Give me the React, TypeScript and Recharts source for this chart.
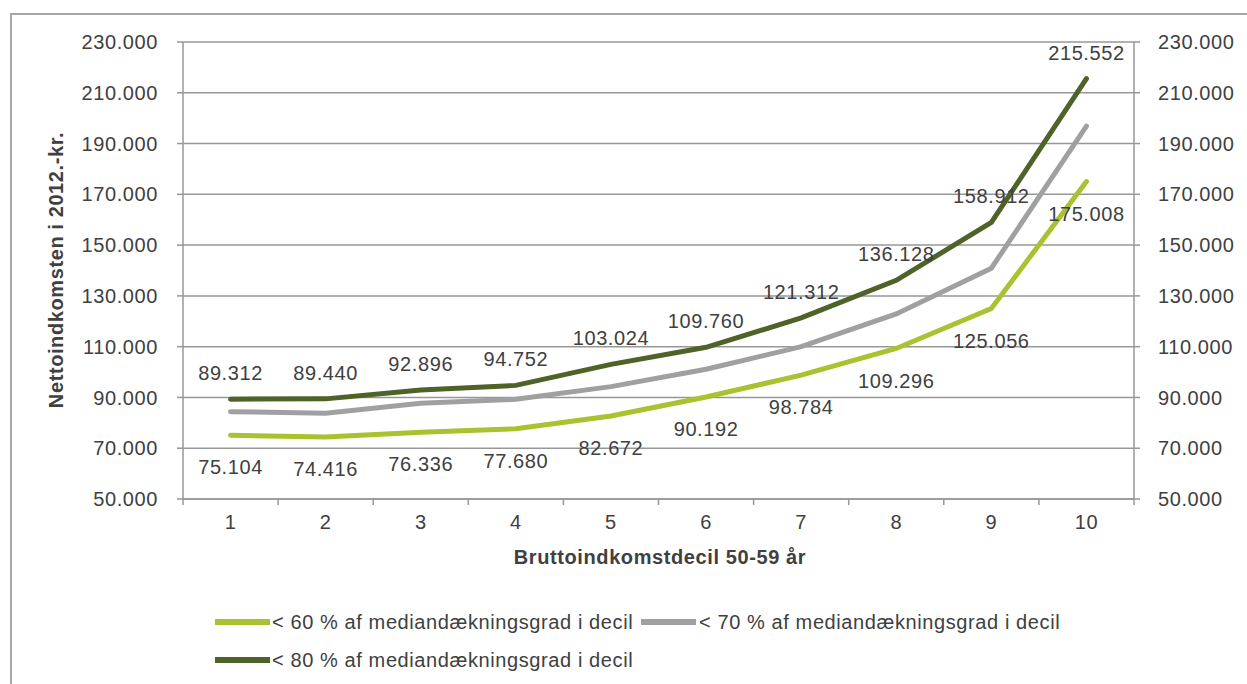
import { LineChart, Line, XAxis, YAxis, CartesianGrid, LabelList } from 'recharts'

// Deciles on the x axis; tick marks sit on the boundaries between them
const deciles = [1, 2, 3, 4, 5, 6, 7, 8, 9, 10]
const boundaries = [0.5, 1.5, 2.5, 3.5, 4.5, 5.5, 6.5, 7.5, 8.5, 9.5, 10.5]
const yTicks = [50000, 70000, 90000, 110000, 130000, 150000, 170000, 190000, 210000, 230000]

const under60 = [75104, 74416, 76336, 77680, 82672, 90192, 98784, 109296, 125056, 175008]
const under70 = [84400, 83760, 87700, 89270, 94250, 101100, 110000, 122900, 140900, 196900]
const under80 = [89312, 89440, 92896, 94752, 103024, 109760, 121312, 136128, 158912, 215552]

const seriesNames = [
  '< 60 % af mediandækningsgrad i decil',
  '< 70 % af mediandækningsgrad i decil',
  '< 80 % af mediandækningsgrad i decil',
]

const data = deciles.map((d, i) => ({
  decil: d,
  p60: under60[i],
  p70: under70[i],
  p80: under80[i],
}))

const COLORS = { p60: '#a9c22f', p70: '#a0a0a0', p80: '#4f6228' }
const GRID = '#979797'
const TEXT = '#404040'
const FONT = '"Liberation Sans", Arial, sans-serif'

const WIDTH = 1247
const HEIGHT = 684
const margin = { top: 42, left: 13, right: 13, bottom: 155 }
const leftAxisW = 170
const rightAxisW = 100
const plotW = WIDTH - margin.left - margin.right - leftAxisW - rightAxisW
// half of one decile band, so a label sits between two boundary ticks
const halfBand = plotW / deciles.length / 2

// Danish thousands separator: 230000 -> 230.000
const fmt = (v: number) => String(Math.round(v)).replace(/\B(?=(\d{3})+(?!\d))/g, '.')

const tickStyle = { fontSize: 20, fill: TEXT, fontFamily: FONT, letterSpacing: 0.6 }
const labelStyle = { fontSize: 20, fill: TEXT, fontFamily: FONT, letterSpacing: 0.6 }

// x tick: drawn at a boundary, label shown for the decile to its right
const DecileTick = (props: any) => {
  const { x, y, payload } = props
  const dec = payload.value + 0.5
  if (!deciles.includes(dec)) return <g />
  return (
    <text x={x + halfBand} y={y} dy="0.71em" textAnchor="middle" {...tickStyle}>
      {dec}
    </text>
  )
}

export default function App() {
  const legendText = {
    position: 'absolute' as const,
    fontFamily: FONT,
    fontSize: 20,
    letterSpacing: 0.6,
    color: TEXT,
    whiteSpace: 'nowrap' as const,
    lineHeight: '20px',
  }
  const swatch = (color: string, left: number, top: number) => (
    <div style={{ position: 'absolute', left, top, width: 55, height: 6, background: color }} />
  )

  return (
    <div style={{ position: 'fixed', left: 0, top: 0, width: WIDTH, height: HEIGHT, overflow: 'hidden', background: '#fff' }}>
      <div
        style={{
          position: 'absolute',
          left: 10,
          top: 13,
          width: 1400,
          height: 800,
          border: '2px solid #a6a6a6',
          boxSizing: 'border-box',
        }}
      />
      <LineChart
        width={WIDTH}
        height={HEIGHT}
        data={data}
        margin={margin}
        style={{ position: 'absolute', left: 0, top: 0 }}
      >
        <CartesianGrid horizontal vertical={false} stroke={GRID} strokeWidth={1.5} yAxisId="left" />
        <XAxis
          type="number"
          dataKey="decil"
          domain={[0.5, 10.5]}
          ticks={boundaries}
          height={30}
          tickSize={6}
          tickMargin={10}
          axisLine={{ stroke: GRID, strokeWidth: 1.5 }}
          tickLine={{ stroke: GRID, strokeWidth: 1.5 }}
          tick={<DecileTick />}
        />
        <YAxis
          yAxisId="left"
          type="number"
          domain={[50000, 230000]}
          ticks={yTicks}
          width={leftAxisW}
          tickFormatter={fmt}
          tickSize={6}
          tickMargin={19}
          axisLine={{ stroke: GRID, strokeWidth: 1.5 }}
          tickLine={{ stroke: GRID, strokeWidth: 1.5 }}
          tick={tickStyle}
        />
        <YAxis
          yAxisId="right"
          orientation="right"
          type="number"
          domain={[50000, 230000]}
          ticks={yTicks}
          width={rightAxisW}
          tickFormatter={fmt}
          tickSize={6}
          tickMargin={18}
          axisLine={{ stroke: GRID, strokeWidth: 1.5 }}
          tickLine={{ stroke: GRID, strokeWidth: 1.5 }}
          tick={tickStyle}
        />
        <Line
          yAxisId="right"
          dataKey="p70"
          stroke={COLORS.p70}
          strokeWidth={5}
          dot={false}
          strokeLinecap="round"
          isAnimationActive={false}
        />
        <Line
          yAxisId="left"
          dataKey="p60"
          stroke={COLORS.p60}
          strokeWidth={5}
          dot={false}
          strokeLinecap="round"
          isAnimationActive={false}
        >
          <LabelList dataKey="p60" position="bottom" offset={25} formatter={(v: any) => fmt(Number(v))} style={labelStyle} />
        </Line>
        <Line
          yAxisId="left"
          dataKey="p80"
          stroke={COLORS.p80}
          strokeWidth={5}
          dot={false}
          strokeLinecap="round"
          isAnimationActive={false}
        >
          <LabelList dataKey="p80" position="top" offset={19} formatter={(v: any) => fmt(Number(v))} style={labelStyle} />
        </Line>
      </LineChart>

      {/* axis titles */}
      <div
        style={{
          position: 'absolute',
          left: 56,
          top: 270,
          transform: 'translate(-50%, -50%) rotate(-90deg)',
          fontFamily: FONT,
          fontWeight: 'bold',
          fontSize: 20,
          letterSpacing: 0.6,
          color: TEXT,
          whiteSpace: 'nowrap',
        }}
      >
        Nettoindkomsten i 2012.-kr.
      </div>
      <div
        style={{
          position: 'absolute',
          left: 660,
          top: 557,
          transform: 'translate(-50%, -50%)',
          fontFamily: FONT,
          fontWeight: 'bold',
          fontSize: 20,
          letterSpacing: 0.6,
          color: TEXT,
          whiteSpace: 'nowrap',
        }}
      >
        Bruttoindkomstdecil 50-59 år
      </div>

      {/* legend */}
      {swatch(COLORS.p60, 215, 619)}
      <div style={{ ...legendText, left: 272, top: 612 }}>{seriesNames[0]}</div>
      {swatch(COLORS.p70, 641, 619)}
      <div style={{ ...legendText, left: 699, top: 612 }}>{seriesNames[1]}</div>
      {swatch(COLORS.p80, 215, 657)}
      <div style={{ ...legendText, left: 272, top: 650 }}>{seriesNames[2]}</div>
    </div>
  )
}
